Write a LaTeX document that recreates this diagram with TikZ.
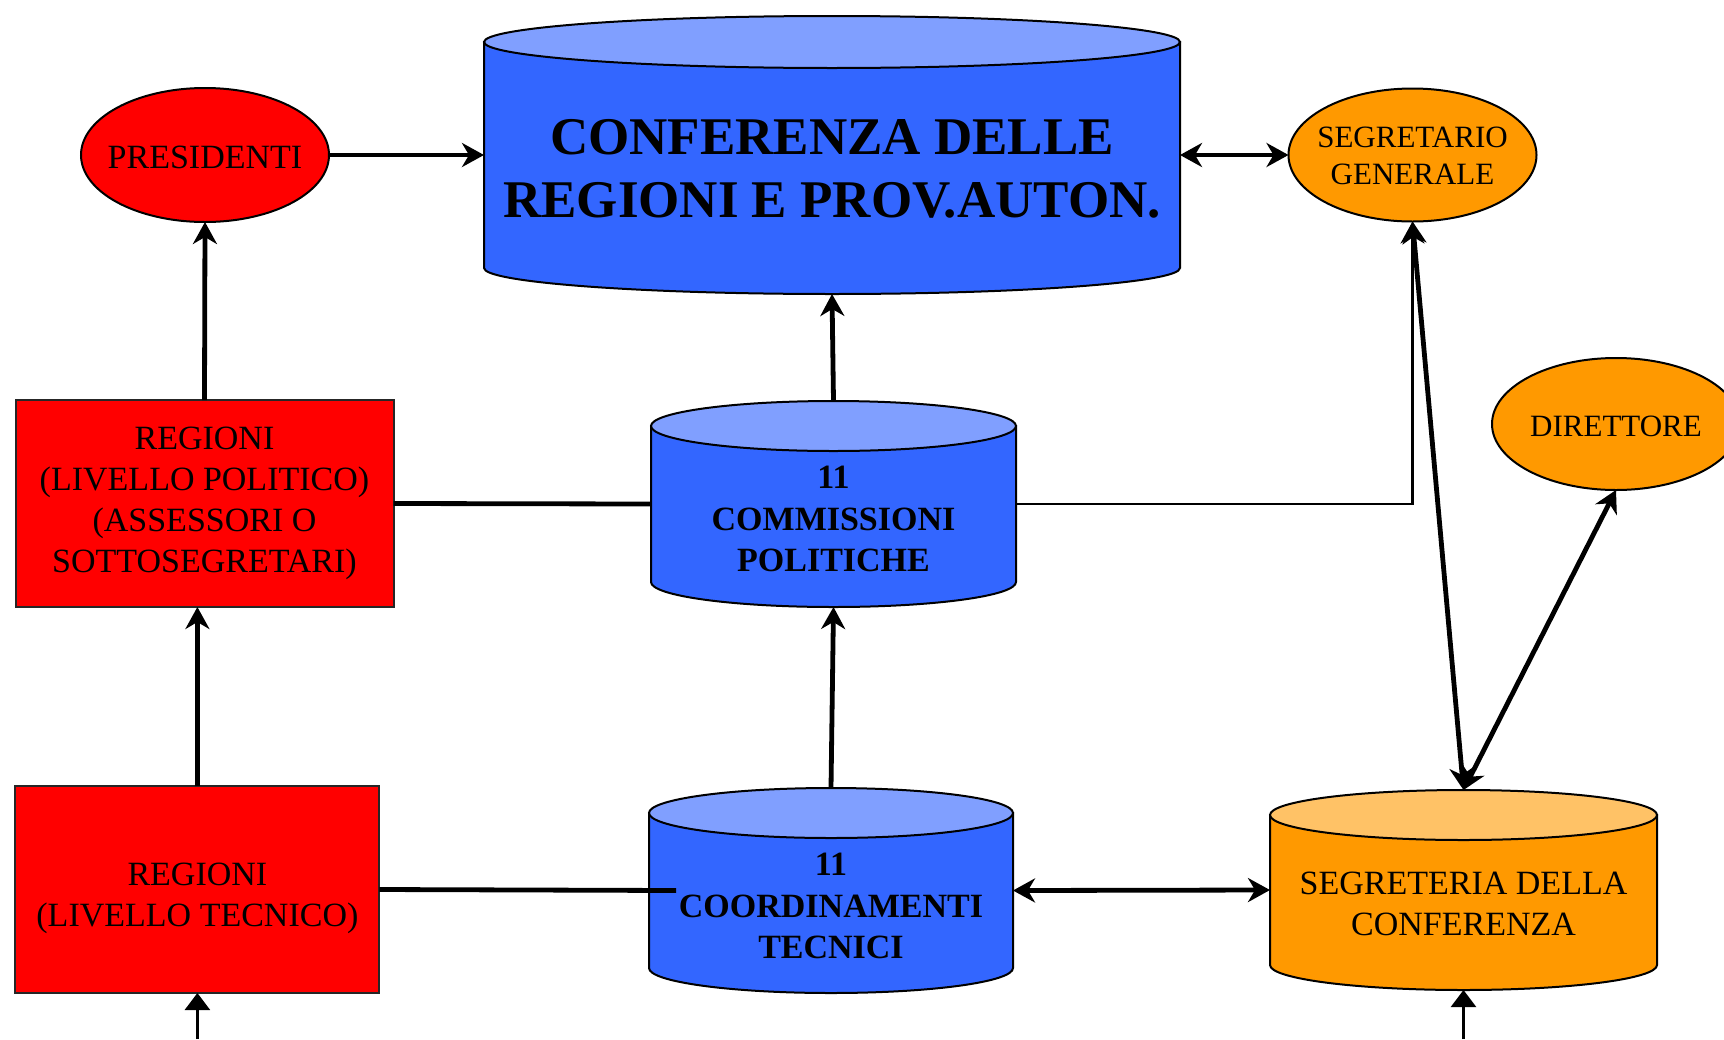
\documentclass[tikz,border=0pt]{standalone}
\usepackage{fontspec}
\setmainfont{Liberation Serif}
\usetikzlibrary{arrows.meta,shapes.geometric,calc}
\definecolor{cblue}{HTML}{3366FF}
\definecolor{cbluetop}{HTML}{809FFF}
\definecolor{cred}{HTML}{FF0000}
\definecolor{corange}{HTML}{FF9900}
\definecolor{corangetop}{HTML}{FFC266}
\newcommand\cylshape[4]{%
  \path[draw=black, line width=2pt, fill=#3] let \p1=(#1.north west), \p2=(#1.south east), \n1={(\x2-\x1)/2} in
    (\x1,\y1-#2) -- (\x1,\y2+#2) arc[start angle=180, end angle=360, x radius={\n1*1pt}, y radius=#2] -- (\x2,\y1-#2) -- cycle;
  \path[draw=black, line width=2pt, fill=#4] let \p1=(#1.north west), \p2=(#1.south east), \n1={(\x2-\x1)/2} in
    ([yshift=-#2]#1.north) ellipse [x radius={\n1*1pt}, y radius=#2];
}
\begin{document}
\begin{tikzpicture}[x=1pt,y=-1pt,
  every node/.style={inner sep=0pt, outer sep=0pt},
  ellbox/.style={ellipse, draw=black, line width=2pt, fill=corange},
  rectbox/.style={rectangle, draw=black!85, line width=2pt, fill=cred},
  cylbox/.style={rectangle, draw=none},
  txt/.style={font=\fontsize{34}{41}\selectfont, align=center},
  stxt/.style={font=\fontsize{31}{37}\selectfont, align=center},
  btxt/.style={font=\bfseries\fontsize{34}{41.5}\selectfont, align=center},
  bigtxt/.style={font=\bfseries\fontsize{53}{63}\selectfont, align=center},
  tip/.tip={Stealth[length=22pt,width=24pt,inset=7pt]},
  conn/.style={line width=4.8pt, -tip},
  biconn/.style={line width=4.8pt, tip-tip},
  link/.style={line width=4.8pt},
  thinconn/.style={line width=2.2pt, -tip},
  inflow/.style={line width=2.5pt, -{Triangle[length=17pt,width=25pt]}}
]
\useasboundingbox (0,0) rectangle (1724,1039);

% ellipses
\node[ellbox, fill=cred, minimum width=248, minimum height=134] (pres) at (205,155) {};
\node[txt] (prest) at (205,157) {PRESIDENTI};
\node[ellbox, minimum width=248, minimum height=133] (segr) at (1412.5,155) {};
\node[stxt] (segrt) at (1412.5,156) {SEGRETARIO\\GENERALE};
\node[ellbox, minimum width=248, minimum height=132] (dir) at (1616,424) {};
\node[stxt] (dirt) at (1616,426) {DIRETTORE};

% rectangles
\node[rectbox, txt, minimum width=378, minimum height=207] (regpol) at (204.5,503.5) {REGIONI\\(LIVELLO POLITICO)\\(ASSESSORI O\\SOTTOSEGRETARI)};
\node[rectbox, minimum width=364, minimum height=207] (regtec) at (197.4,889.5) {};
\node[txt] (regtect) at (197.4,898) {REGIONI\\(LIVELLO TECNICO)};

% cylinders
\node[cylbox, minimum width=696, minimum height=278] (conf) at (832,155) {};
\node[cylbox, minimum width=365, minimum height=206] (comm) at (833.5,504) {};
\node[cylbox, minimum width=364, minimum height=205] (coord) at (831,890.5) {};
\node[cylbox, minimum width=387, minimum height=200] (segc) at (1463.5,890) {};
\cylshape{conf}{26pt}{cblue}{cbluetop}
\cylshape{comm}{25pt}{cblue}{cbluetop}
\cylshape{coord}{25pt}{cblue}{cbluetop}
\cylshape{segc}{25pt}{corange}{corangetop}
\node[bigtxt] (conft) at (832,169) {CONFERENZA DELLE\\REGIONI E PROV.AUTON.};
\node[btxt] (commt) at (833.5,519) {11\\COMMISSIONI\\POLITICHE};
\node[btxt] (coordt) at (831,906) {11\\COORDINAMENTI\\TECNICI};
\node[txt] (segct) at (1463.5,904) {SEGRETERIA DELLA\\CONFERENZA};

% connectors
\draw[conn] (pres.east) -- (conf.west);
\draw[biconn] (conf.east) -- (segr.west);
\draw[conn] (regpol.north) -- (pres.south);
\draw[conn] (regtec.north) -- (regtec.north |- regpol.south);
\draw[conn] (comm.north) -- (conf.south);
\draw[conn] (coord.north) -- (comm.south);
\draw[link] (regpol.east) -- (comm.west);
\draw[link] (regtec.east) -- ([xshift=27pt]coord.west);
\draw[thinconn] (comm.east) -| (segr.south);
\draw[biconn] (segr.south) -- (segc.north);
\draw[biconn] (dir.south) -- (segc.north);
\draw[biconn] (coord.east) -- (segc.west);
\coordinate (in1) at (197.4,1039);
\coordinate (in2) at (1463.5,1039);
\draw[inflow] (in1) -- (regtec.south);
\draw[inflow] (in2) -- (segc.south);
\end{tikzpicture}
\end{document}
